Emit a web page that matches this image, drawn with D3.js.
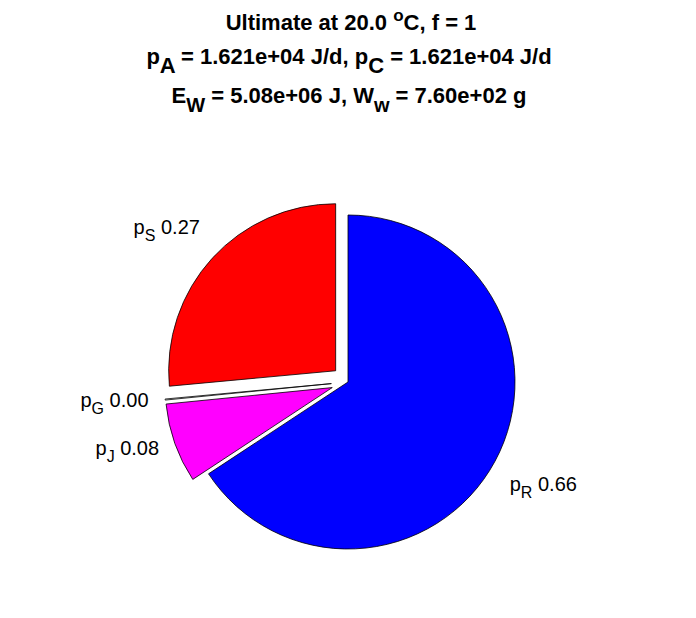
<!DOCTYPE html>
<html><head><meta charset="utf-8">
<script src="https://cdn.jsdelivr.net/npm/d3@7"></script>
<style>body{margin:0;background:#fff}</style>
</head><body>
<svg id="c" width="696" height="618"></svg>
<script>
// ---- data ----
const names  = ["R", "J", "G", "S"];
const values = [0.658, 0.077, 0.001, 0.265];
const labels = ["0.66", "0.08", "0.00", "0.27"];
const colors = ["#0000ff", "#ff00ff", "#ffffff", "#ff0000"];
const explode = [0, 1, 1, 1];
const title1 = [["Ultimate at 20.0 ", 0], ["o", 1], ["C, f = 1", 0]];
const title2 = [["p", 0], ["A", -1], [" = 1.621e+04 J/d, p", 0], ["C", -1], [" = 1.621e+04 J/d", 0]];
const title3 = [["E", 0], ["W", -1], [" = 5.08e+06 J, W", 0], ["w", -1], [" = 7.60e+02 g", 0]];

// ---- layout ----
const W = 696, H = 618;
const cx = 348, cy = 382, R = 167;
const svg = d3.select("#c");
svg.append("rect").attr("width", W).attr("height", H).attr("fill", "#fff");

const FONT = "'Liberation Sans', Arial, Helvetica, sans-serif";

function richText(g, segs, x, y, size, subSize, subShift, supShift, weight, anchor) {
  const t = g.append("text").attr("x", x).attr("y", y)
    .attr("font-family", FONT).attr("font-size", size)
    .attr("font-weight", weight).attr("text-anchor", anchor).attr("fill", "#000");
  let cur = 0;
  segs.forEach(([s, k]) => {
    const target = k === -1 ? subShift : (k === 1 ? -supShift : 0);
    t.append("tspan").text(s).attr("dy", target - cur)
      .attr("font-size", k === 0 ? size : subSize);
    cur = target;
  });
  return t;
}

const tg = svg.append("g");
richText(tg, title1, 351, 30, 22, 17, 9, 9, "bold", "middle");
richText(tg, title2, 349, 64, 22, 22, 9, 7, "bold", "middle");
richText(tg, title3, 349, 103, 22, 20, 9, 7, "bold", "middle");

// ---- pie ----
const pie = d3.pie().sort(null).value(d => d).startAngle(0).endAngle(2 * Math.PI);
const arcs = pie(values);
const arc = d3.arc().innerRadius(0).outerRadius(R);
const off = 0.1 * R;

const pg = svg.append("g").attr("transform", `translate(${cx},${cy})`);
arcs.forEach((a, i) => {
  const mid = (a.startAngle + a.endAngle) / 2;
  const ex = explode[i] ? off * Math.sin(mid) : 0;
  const ey = explode[i] ? -off * Math.cos(mid) : 0;
  pg.append("path").attr("d", arc(a))
    .attr("transform", `translate(${ex},${ey})`)
    .attr("fill", colors[i]).attr("stroke", "#000").attr("stroke-width", 0.8)
    .attr("stroke-linejoin", "round");

  const ax = ex + 1.1 * R * Math.sin(mid);
  const ay = ey - 1.1 * R * Math.cos(mid);
  const vy = -Math.cos(mid);
  let by;
  if (vy < -0.4) by = ay - 13;
  else if (vy > 0.4) by = ay + 22;
  else by = ay + 6;
  const anchor = Math.sin(mid) < 0 ? "end" : "start";
  richText(pg, [["p", 0], [names[i], -1], [" " + labels[i], 0]], ax + (anchor === "start" ? 0 : 0), by, 20, 16, 7, 7, "normal", anchor);
});
</script>
</body></html>
